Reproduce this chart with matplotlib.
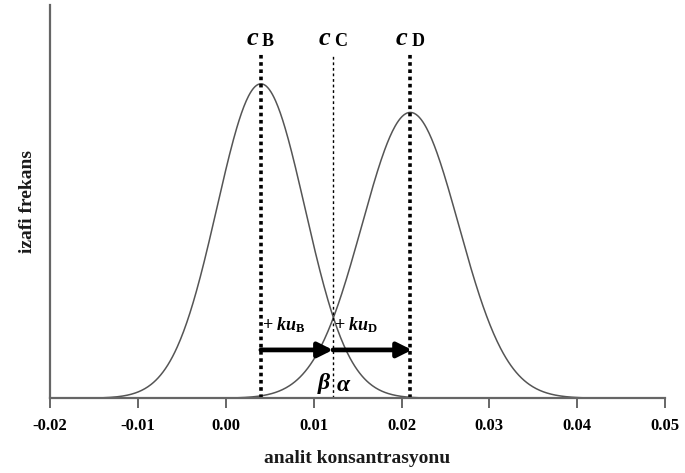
import numpy as np
import matplotlib.pyplot as plt

# ── distribution parameters ───────────────────────────────────────────────────

C_B, C_C, C_D = 0.004, 0.0122, 0.021
SIGMA_B, SIGMA_D = 0.0050, 0.0055
X_TICKS = [-0.02, -0.01, 0.00, 0.01, 0.02, 0.03, 0.04, 0.05]
X_TICK_LABELS = ["-0.02", "-0.01", "0.00", "0.01", "0.02", "0.03", "0.04", "0.05"]

SERIF = ["Liberation Serif", "DejaVu Serif"]
plt.rcParams["mathtext.fontset"] = "custom"
plt.rcParams["mathtext.rm"] = "Liberation Serif:bold"
plt.rcParams["mathtext.it"] = "Liberation Serif:italic:bold"
plt.rcParams["mathtext.bf"] = "Liberation Serif:bold"


def gauss(x, mu, s):
    return np.exp(-(x - mu) ** 2 / (2 * s ** 2)) / (s * np.sqrt(2 * np.pi))


# ── plot ──────────────────────────────────────────────────────────────────────

fig = plt.figure(figsize=(6.85, 4.73), dpi=100)
ax = fig.add_axes([0.073, 0.158, 0.898, 0.831])

xb = np.linspace(C_B - 3.6 * SIGMA_B, C_B + 3.6 * SIGMA_B, 400)
xd = np.linspace(C_D - 3.6 * SIGMA_D, C_D + 3.6 * SIGMA_D, 400)
ax.plot(xb, gauss(xb, C_B, SIGMA_B), color="#555555", lw=1.1)
ax.plot(xd, gauss(xd, C_D, SIGMA_D), color="#555555", lw=1.1)

peak = gauss(C_B, C_B, SIGMA_B)
ymax = peak / 0.80
ax.set_xlim(-0.02, 0.05)
ax.set_ylim(0, ymax)

top = ymax * 0.875
ax.plot([C_B, C_B], [0, top], color="black", lw=2.6, ls=(0, (1, 1)))
ax.plot([C_D, C_D], [0, top], color="black", lw=2.6, ls=(0, (1, 1)))
ax.plot([C_C, C_C], [0, top], color="black", lw=1.0, ls=(0, (2, 2)))

for c, sub in [(C_B, "B"), (C_C, "C"), (C_D, "D")]:
    ax.text(c - 0.0003, ymax * 0.885, "c", fontsize=19, fontstyle="italic",
            fontweight="bold", family=SERIF, ha="right", va="bottom")
    ax.text(c + 0.0001, ymax * 0.885, sub, fontsize=13,
            fontweight="bold", family=SERIF, ha="left", va="bottom")

# ku arrows
y_arr = ymax * 0.123
ax.annotate("", xy=(C_C, y_arr), xytext=(C_B, y_arr),
            arrowprops=dict(arrowstyle="-|>", color="black", lw=3.4,
                            mutation_scale=22, shrinkA=0, shrinkB=0))
ax.annotate("", xy=(C_D + 0.0002, y_arr), xytext=(C_C, y_arr),
            arrowprops=dict(arrowstyle="-|>", color="black", lw=3.4,
                            mutation_scale=22, shrinkA=0, shrinkB=0))

y_ku = ymax * 0.162
ax.text(C_B + 0.0001, y_ku, r"$+\ ku_{\mathrm{B}}$", fontsize=13,
        ha="left", va="bottom")
ax.text(C_C + 0.0001, y_ku, r"$+\ ku_{\mathrm{D}}$", fontsize=13,
        ha="left", va="bottom")

ax.text(C_C - 0.0002, ymax * 0.005, r"$\beta$", fontsize=17, ha="right", va="bottom")
ax.text(C_C + 0.0004, ymax * 0.005, r"$\alpha$", fontsize=17, ha="left", va="bottom")

# axes styling
for side in ["top", "right"]:
    ax.spines[side].set_visible(False)
for side in ["left", "bottom"]:
    ax.spines[side].set_color("#666666")
    ax.spines[side].set_linewidth(1.6)
ax.set_yticks([])
ax.set_xticks(X_TICKS)
ax.set_xticklabels(X_TICK_LABELS, fontsize=12, fontweight="bold", family=SERIF)
ax.tick_params(axis="x", direction="out", length=7, width=1.4, color="#666666", pad=7)

ax.set_xlabel("analit konsantrasyonu", fontsize=14, fontweight="bold",
              family=SERIF, color="#1a1a1a", labelpad=12)
ax.set_ylabel("izafi frekans", fontsize=14, fontweight="bold",
              family=SERIF, color="#1a1a1a", labelpad=10)

fig.savefig("out.png", dpi=100)
